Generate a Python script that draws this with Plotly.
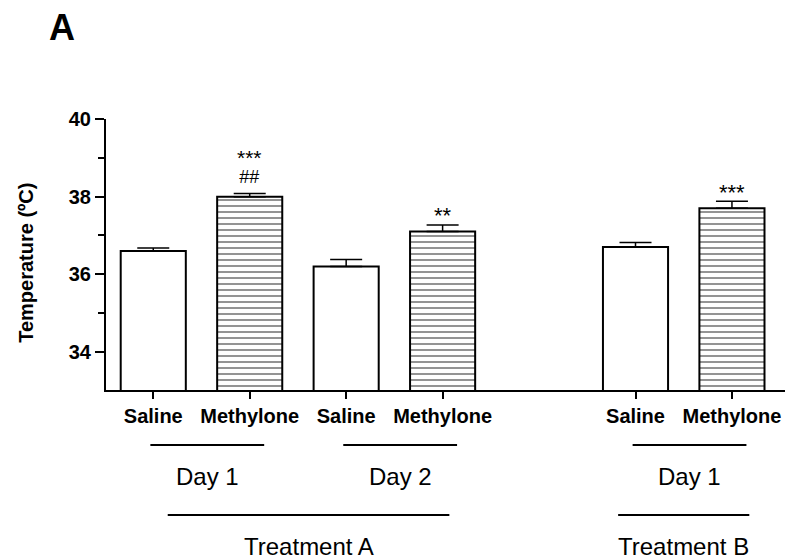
import plotly.graph_objects as go

# ---- data ----
tick_labels = ["Saline", "Methylone", "Saline", "Methylone", "Saline", "Methylone"]
x_pos = [0, 1, 2, 3, 5, 6]
means = [36.6, 38.0, 36.2, 37.1, 36.7, 37.7]
sem = [0.08, 0.08, 0.18, 0.17, 0.12, 0.18]
stars = ["", "***", "", "**", "", "***"]
hashes = ["", "##", "", "", "", ""]
day_labels = ["Day 1", "Day 2", "Day 1"]
day_spans = [(0, 1), (2, 3), (4, 5)]      # bar index ranges
treat_labels = ["Treatment A", "Treatment B"]
treat_spans = [(0, 3), (4, 5)]            # bar index ranges

FONT = "Liberation Sans, Arial, sans-serif"

sal_idx = [i for i, t in enumerate(tick_labels) if t == "Saline"]
met_idx = [i for i, t in enumerate(tick_labels) if t == "Methylone"]

fig = go.Figure()
for idx, name, shape in [(sal_idx, "Saline", ""), (met_idx, "Methylone", "-")]:
    fig.add_trace(go.Bar(
        x=[x_pos[i] for i in idx],
        y=[means[i] for i in idx],
        name=name,
        width=0.675,
        marker=dict(color="white",
                    line=dict(color="black", width=2),
                    pattern=dict(shape=shape, size=6, solidity=0.3,
                                 fgcolor="#111111", bgcolor="white")),
        error_y=dict(type="data", symmetric=False,
                     array=[sem[i] for i in idx],
                     arrayminus=[0 for _ in idx],
                     color="black", thickness=1.5, width=16),
        showlegend=False,
    ))

annotations = []
# significance marks
for i in range(len(x_pos)):
    top = means[i] + sem[i]
    if hashes[i]:
        annotations.append(dict(x=x_pos[i], y=top, xref="x", yref="y",
                                text="<span style='font-size:21px'>" + stars[i] + "</span><br>"
                                     "<span style='font-size:18px'>" + hashes[i] + "</span>",
                                showarrow=False, yanchor="bottom", yshift=5,
                                font=dict(family=FONT, size=14, color="black")))
    elif stars[i]:
        annotations.append(dict(x=x_pos[i], y=top, xref="x", yref="y", text=stars[i],
                                showarrow=False, yanchor="middle", yshift=9,
                                font=dict(family=FONT, size=22, color="black")))

shapes = []
# Day group lines and labels
for lab, (a, b) in zip(day_labels, day_spans):
    x0, x1 = x_pos[a] - 0.03, x_pos[b] + 0.15
    shapes.append(dict(type="line", xref="x", yref="paper", x0=x0, x1=x1,
                       y0=-0.203, y1=-0.203, line=dict(color="black", width=2)))
    annotations.append(dict(x=(x0 + x1) / 2, y=-0.321, xref="x", yref="paper", text=lab,
                            showarrow=False, yanchor="middle",
                            font=dict(family=FONT, size=24, color="black")))
for lab, (a, b) in zip(treat_labels, treat_spans):
    wide = (b - a) > 1
    half = 1.46 if wide else 0.68
    c = (x_pos[a] + x_pos[b]) / 2 + (0.11 if wide else 0.0)
    x0, x1 = c - half, c + half
    shapes.append(dict(type="line", xref="x", yref="paper", x0=x0, x1=x1,
                       y0=-0.461, y1=-0.461, line=dict(color="black", width=2)))
    annotations.append(dict(x=c, y=-0.579, xref="x", yref="paper", text=lab,
                            showarrow=False, yanchor="middle",
                            font=dict(family=FONT, size=24, color="black")))

# panel letter and y title
annotations.append(dict(x=-0.065, y=1.336, xref="paper", yref="paper", text="<b>A</b>",
                        showarrow=False, xanchor="center", yanchor="middle",
                        font=dict(family=FONT, size=36, color="black")))
annotations.append(dict(x=-0.119, y=0.47, xref="paper", yref="paper",
                        text="<b>Temperature (ºC)</b>", textangle=-90,
                        showarrow=False, xanchor="center", yanchor="middle",
                        font=dict(family=FONT, size=20, color="black")))

fig.update_layout(
    width=785, height=560,
    margin=dict(l=106, r=0, t=119, b=170),
    paper_bgcolor="white", plot_bgcolor="white",
    barmode="overlay",
    annotations=annotations, shapes=shapes,
    font=dict(family=FONT, color="black"),
)
fig.update_xaxes(
    range=[-0.49, 6.55],
    tickmode="array", tickvals=x_pos,
    ticktext=["<b>%s</b>" % t for t in tick_labels],
    tickfont=dict(family=FONT, size=20, color="black"),
    ticks="outside", ticklen=7, tickwidth=2, tickcolor="black",
    showline=True, linecolor="black", linewidth=2,
    showgrid=False, zeroline=False,
)
fig.update_yaxes(
    range=[33.02, 40.0],
    tickmode="array", tickvals=[34, 36, 38, 40],
    ticktext=["<b>%d</b>" % v for v in [34, 36, 38, 40]],
    tickfont=dict(family=FONT, size=20, color="black"),
    ticks="outside", ticklen=9, tickwidth=2, tickcolor="black",
    minor=dict(tickvals=[35, 37, 39], ticks="outside", ticklen=6, tickwidth=2,
               tickcolor="black", showgrid=False),
    showline=True, linecolor="black", linewidth=2,
    showgrid=False, zeroline=False,
)

fig.write_html("out.html", config={"displayModeBar": False},
               post_script="document.body.style.margin='0';document.body.style.overflow='hidden';")
